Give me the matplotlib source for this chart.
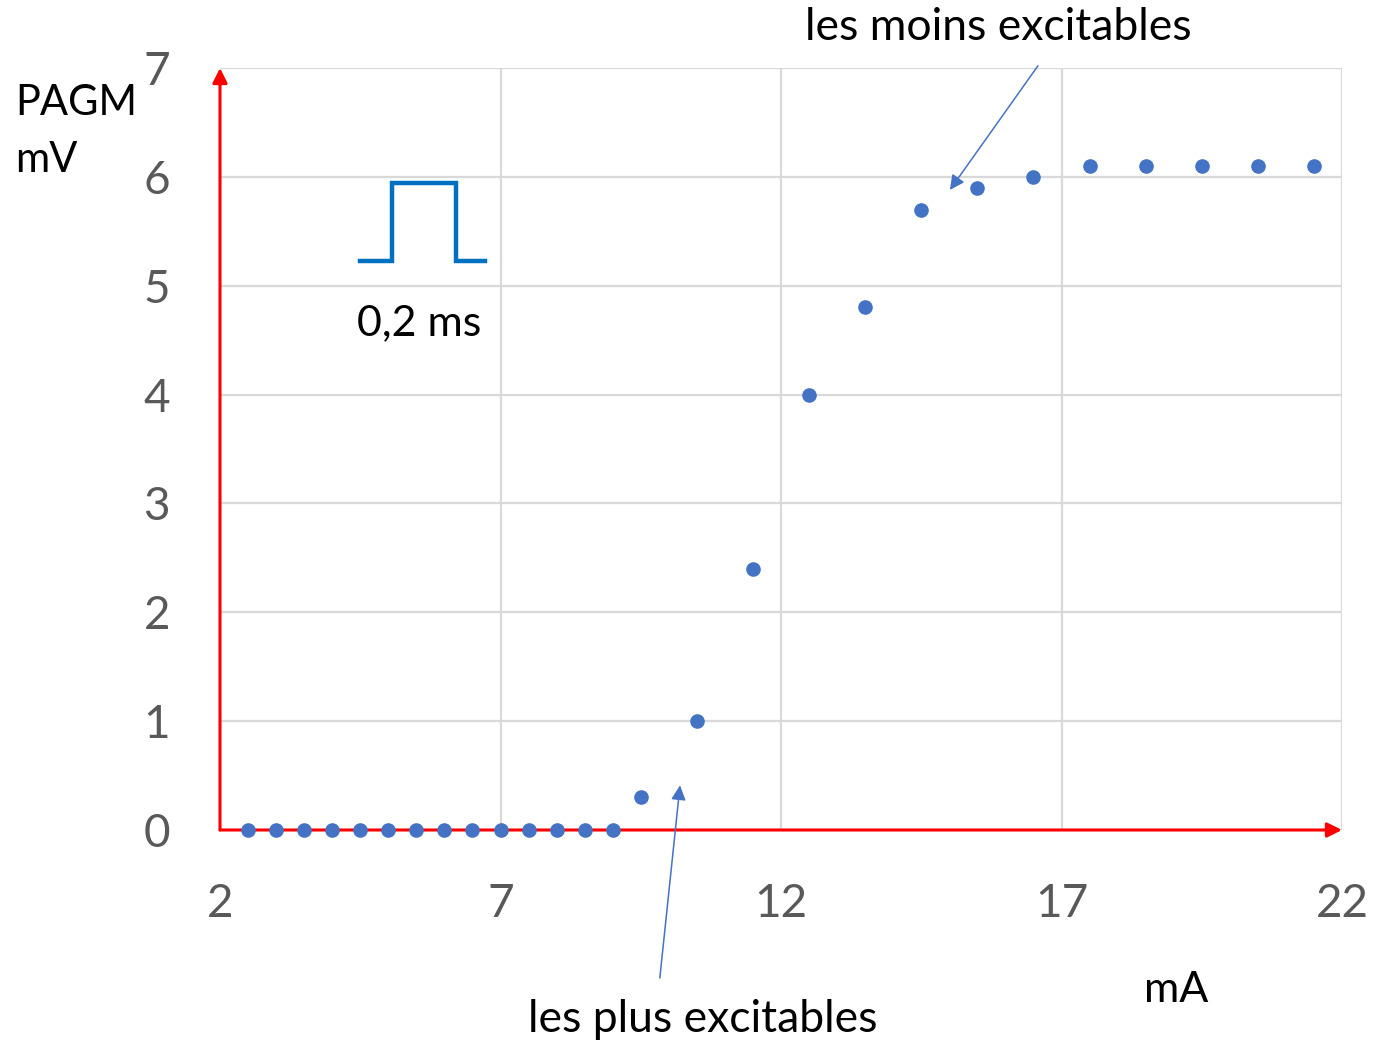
import matplotlib
matplotlib.use("Agg")
import matplotlib.pyplot as plt

plt.rcParams['font.family'] = ['Lato', 'DejaVu Sans']

current_mA = [2.5, 3, 3.5, 4, 4.5, 5, 5.5, 6, 6.5, 7, 7.5, 8, 8.5, 9,
              9.5, 10.5, 11.5, 12.5, 13.5, 14.5, 15.5, 16.5,
              17.5, 18.5, 19.5, 20.5, 21.5]
pagm_mV = [0, 0, 0, 0, 0, 0, 0, 0, 0, 0, 0, 0, 0, 0,
           0.3, 1.0, 2.4, 4.0, 4.8, 5.7, 5.9, 6.0,
           6.1, 6.1, 6.1, 6.1, 6.1]
x_ticks = [2, 7, 12, 17, 22]
y_ticks = [0, 1, 2, 3, 4, 5, 6, 7]

# pulse symbol (decoration, in data units)
pulse_x = [4.5, 5.07, 5.07, 6.21, 6.21, 6.72]
pulse_y = [5.23, 5.23, 5.94, 5.94, 5.23, 5.23]

fig = plt.figure(figsize=(13.73, 10.46), dpi=100)
ax = fig.add_axes([220/1373, 1-830/1046, 1122/1373, 762/1046])

ax.set_xlim(2, 22)
ax.set_ylim(0, 7)
ax.set_xticks(x_ticks)
ax.set_yticks(y_ticks)
ax.grid(True, color='#d9d9d9', linewidth=1.6)
ax.set_axisbelow(True)
for s in ax.spines.values():
    s.set_visible(False)
ax.tick_params(length=0, labelsize=33, labelcolor='#595959')
ax.tick_params(axis='x', pad=38)
ax.tick_params(axis='y', pad=36)

# red axes with arrows
ax.annotate('', xy=(22, 0), xytext=(2, 0),
            arrowprops=dict(arrowstyle='-|>', color='#ff0000', lw=2.2,
                            mutation_scale=22, shrinkA=0, shrinkB=0),
            annotation_clip=False)
ax.annotate('', xy=(2, 7), xytext=(2, 0),
            arrowprops=dict(arrowstyle='-|>', color='#ff0000', lw=2.2,
                            mutation_scale=22, shrinkA=0, shrinkB=0),
            annotation_clip=False)

ax.plot(current_mA, pagm_mV, 'o', color='#4472C4', markersize=9.5,
        clip_on=False, zorder=5)

ax.plot(pulse_x, pulse_y, color='#0070C0', lw=3.2, solid_joinstyle='miter')
ax.text(5.55, 4.66, '0,2 ms', fontsize=31, ha='center', va='center', color='black')

# annotations
ax.annotate('', xy=(15.01, 5.88), xytext=(16.58, 7.02),
            arrowprops=dict(arrowstyle='-|>', color='#4472C4', lw=1.1,
                            mutation_scale=22, shrinkA=0, shrinkB=0),
            annotation_clip=False)
ax.annotate('', xy=(10.2, 0.41), xytext=(9.84, -1.36),
            arrowprops=dict(arrowstyle='-|>', color='#4472C4', lw=1.1,
                            mutation_scale=22, shrinkA=0, shrinkB=0),
            annotation_clip=False)

fig.text(998/1373, 1-28/1046, 'les moins excitables', fontsize=32,
         ha='center', va='center')
fig.text(703/1373, 1-1020/1046, 'les plus excitables', fontsize=32,
         ha='center', va='center')
fig.text(1176/1373, 1-990/1046, 'mA', fontsize=31, ha='center', va='center')
fig.text(15/1373, 1-84/1046, 'PAGM\nmV', fontsize=30, ha='left', va='top',
         linespacing=1.6)

fig.savefig('out.png', dpi=100)
